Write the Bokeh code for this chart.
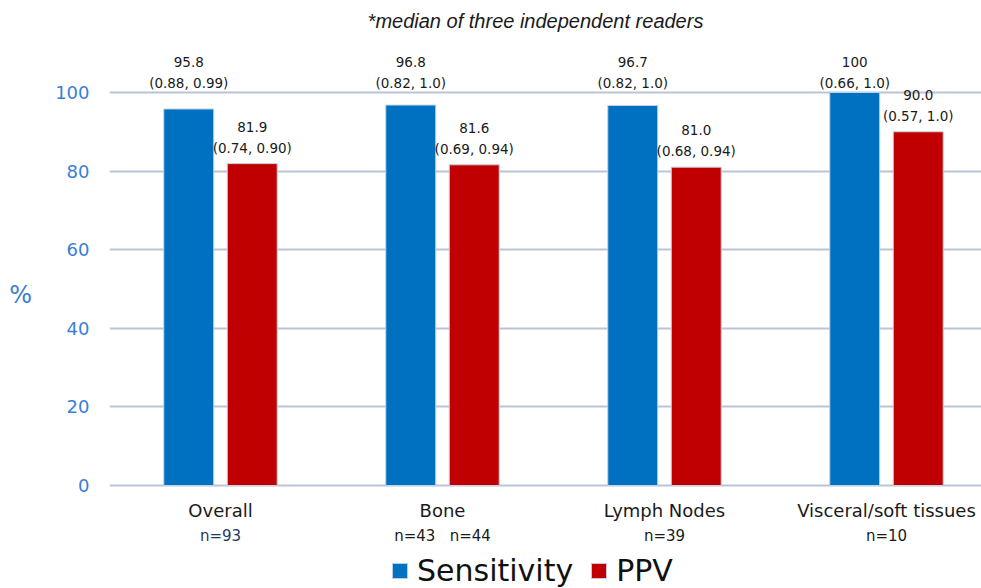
from bokeh.plotting import figure
from bokeh.models import Range1d, FixedTicker, Label, Legend, LegendItem
from bokeh.core.properties import value
from bokeh.embed import file_html
from bokeh.resources import INLINE

# ---- data ----
categories = ["Overall", "Bone", "Lymph Nodes", "Visceral/soft tissues"]
sample_sizes = ["n=93", "n=43\u00a0\u00a0\u00a0n=44", "n=39", "n=10"]
sensitivity = [95.8, 96.8, 96.7, 100.0]
sensitivity_text = ["95.8", "96.8", "96.7", "100"]
sensitivity_ci = ["(0.88, 0.99)", "(0.82, 1.0)", "(0.82, 1.0)", "(0.66, 1.0)"]
ppv = [81.9, 81.6, 81.0, 90.0]
ppv_text = ["81.9", "81.6", "81.0", "90.0"]
ppv_ci = ["(0.74, 0.90)", "(0.69, 0.94)", "(0.68, 0.94)", "(0.57, 1.0)"]
y_ticks = [0, 20, 40, 60, 80, 100]
subtitle = "*median of three independent readers"

BLUE = "#0070c0"
RED = "#c00000"
AXIS_BLUE = "#3b7dd8"
FONT = "DejaVu Sans"

xs = list(range(len(categories)))
bar_w = 0.225
off = 0.143
xs_s = [x - off for x in xs]
xs_p = [x + off for x in xs]

Y0, Y1 = -26.2, 123.4
p = figure(width=981, height=588, output_backend="svg", toolbar_location=None,
           x_range=Range1d(-0.5, 3.428), y_range=Range1d(Y0, Y1),
           x_axis_location=None, y_axis_location="left",
           min_border_left=109, min_border_right=0, min_border_top=0, min_border_bottom=0)
p.outline_line_color = None
p.xgrid.visible = False
p.ygrid.ticker = FixedTicker(ticks=y_ticks)
p.ygrid.grid_line_color = "#b9c4d6"
p.ygrid.grid_line_width = 2

ax = p.yaxis[0]
ax.ticker = FixedTicker(ticks=y_ticks)
ax.axis_line_color = None
ax.major_tick_line_color = None
ax.minor_tick_line_color = None
ax.major_label_standoff = 14
ax.major_label_text_font = FONT
ax.major_label_text_font_size = "18px"
ax.major_label_text_color = AXIS_BLUE

if "axis_label_orientation" in ax.properties():
    ax.axis_label = "%"
    ax.axis_label_orientation = "horizontal"
    ax.axis_label_standoff = 20
    ax.axis_label_text_font = FONT
    ax.axis_label_text_font_style = "normal"
    ax.axis_label_text_font_size = "24px"
    ax.axis_label_text_color = AXIS_BLUE
else:
    p.add_layout(Label(x=14, x_units="canvas", y=48, text="%", text_font=FONT,
                       text_font_size="24px", text_align="left", text_baseline="middle",
                       text_color=AXIS_BLUE))

r_s = p.vbar(x=xs_s, top=sensitivity, bottom=0, width=bar_w, fill_color=BLUE,
             line_color="#c8d2e2", line_width=1)
r_p = p.vbar(x=xs_p, top=ppv, bottom=0, width=bar_w, fill_color=RED,
             line_color="#c8d2e2", line_width=1)

# value labels
px_per_unit = 588 / (Y1 - Y0)
line_gap = 21 / px_per_unit
sens_ci_y = [max(sensitivity) + 2.3] * len(sensitivity)
sens_val_y = [y + line_gap for y in sens_ci_y]
ppv_ci_y = [v + 4.1 for v in ppv]
ppv_val_y = [y + line_gap for y in ppv_ci_y]

common = dict(text_font=value(FONT), text_font_size=value("13.5px"), text_align="center",
              text_baseline="middle", text_color="#1a1a1a")
p.text(x=xs_s, y=sens_ci_y, text=sensitivity_ci, **common)
p.text(x=xs_s, y=sens_val_y, text=sensitivity_text, **common)
p.text(x=xs_p, y=ppv_ci_y, text=ppv_ci, **common)
p.text(x=xs_p, y=ppv_val_y, text=ppv_text, **common)

# category labels
cat_y = -25 / px_per_unit
n_y = -50 / px_per_unit
p.text(x=xs, y=[cat_y] * len(xs), text=categories, text_font=value(FONT),
       text_font_size=value("18px"), text_align="center", text_baseline="middle",
       text_color="#1a1a1a")
p.text(x=xs, y=[n_y] * len(xs), text=sample_sizes, text_font=value(FONT),
       text_font_size=value("15px"), text_align="center", text_baseline="middle",
       text_color=["#1f3864", "#1a1a1a", "#1a1a1a", "#1a1a1a"])

# subtitle
p.add_layout(Label(x=1.419, y=118.3, text=subtitle, text_font="Liberation Sans",
                   text_font_style="italic", text_font_size="20px", text_align="center",
                   text_baseline="middle", text_color="#1a1a1a"))

legend = Legend(items=[LegendItem(label="Sensitivity", renderers=[r_s]),
                       LegendItem(label="PPV", renderers=[r_p])],
                location=(281, 0), orientation="horizontal",
                padding=0, margin=0, spacing=16, label_standoff=8,
                glyph_width=19, glyph_height=19,
                label_text_font=FONT, label_text_font_size="30px",
                label_text_color="#111111",
                border_line_color=None, background_fill_alpha=0)
p.add_layout(legend)

open("out.html", "w").write(file_html(p, INLINE))
